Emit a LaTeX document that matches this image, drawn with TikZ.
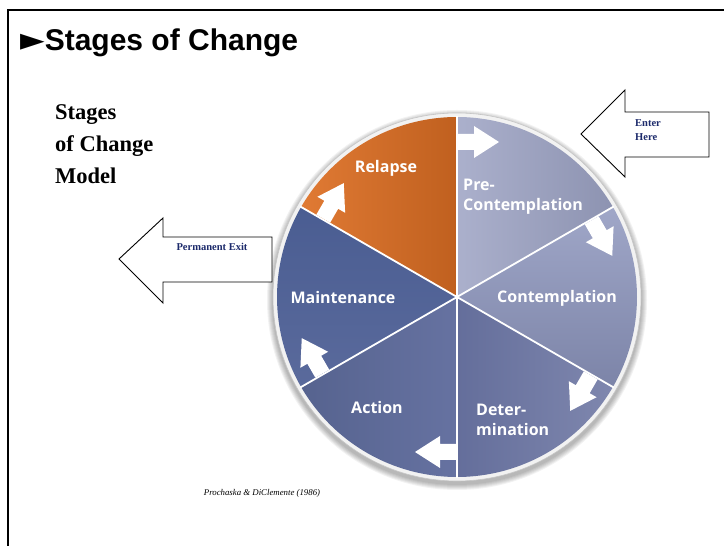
\documentclass[tikz,border=0pt]{standalone}
\usepackage{fontspec}
\setmainfont{Liberation Serif}
\newfontfamily\labfont{Open Sans}
\newfontfamily\ttlfont{Liberation Sans}
\newfontfamily\symfont{DejaVu Sans}
\definecolor{navy}{HTML}{1C2A6B}
\definecolor{relA}{HTML}{E07A34}
\definecolor{relB}{HTML}{C0601F}
\definecolor{preA}{HTML}{ABB0CC}
\definecolor{preB}{HTML}{8D93B1}
\definecolor{conA}{HTML}{A0A7C8}
\definecolor{conB}{HTML}{7C84A8}
\definecolor{detA}{HTML}{646E9B}
\definecolor{detB}{HTML}{7F87AE}
\definecolor{actA}{HTML}{56638F}
\definecolor{actB}{HTML}{6672A1}
\definecolor{maiA}{HTML}{4A5D92}
\definecolor{maiB}{HTML}{5A6A9C}
\tikzset{
  seglabel/.style={inner sep=0pt, text=white, font=\labfont\bfseries\fontsize{16}{20}\selectfont},
  sideblock/.style={draw=black, line width=0.9pt, fill=white, line join=miter},
  sidetext/.style={inner sep=0pt, text=navy, font=\bfseries\fontsize{10.5}{14}\selectfont},
  flowarrow/.style={fill=white}
}
\newcommand\stsector[4]{%
  \shade[left color=#3, right color=#4] (457,249) -- ++(#1:180) arc[start angle=#1, end angle=#2, radius=180] -- cycle;}
\begin{document}
\begin{tikzpicture}[x=1pt,y=1pt]
\useasboundingbox (0,0) rectangle (724,546);
\fill[white] (0,0) rectangle (724,546);
% frame
\draw[line width=2pt] (8,0) -- (8,536) -- (724,536);
% title
\node[anchor=west, inner sep=0pt] (title) at (20,503)
  {\fontsize{30}{34}\selectfont{\symfont\fontsize{32}{34}\selectfont ►}{\ttlfont\bfseries Stages of Change}};
% left heading
\node[anchor=west, inner sep=0pt, align=left, font=\bfseries\fontsize{22.5}{32}\selectfont] (model) at (55,402)
  {Stages\\of Change\\Model};
% wheel
\coordinate (C) at (457,249);
\foreach \i in {1,...,6}{
  \fill[black, opacity=0.05] (457,246) circle[radius=184+\i];
}
\fill[gray!10] (C) circle[radius=184];
\draw[gray!45, line width=0.6pt] (C) circle[radius=184];
\stsector{90}{150}{relA}{relB}
\stsector{30}{90}{preA}{preB}
\shade[top color=conA, bottom color=conB] (C) -- ++(-30:180) arc[start angle=-30, end angle=30, radius=180] -- cycle;
\stsector{-90}{-30}{detA}{detB}
\stsector{-150}{-90}{actA}{actB}
\shade[top color=maiA, bottom color=maiB] (C) -- ++(150:180) arc[start angle=150, end angle=210, radius=180] -- cycle;
\foreach \a in {90,30,-30,-90,-150,150}{
  \draw[white, line width=1.8pt] (C) -- ++(\a:181);
}
% flow arrows
\foreach \a in {90,30,-30,-90,-150,150}{
  \fill[flowarrow, shift={(C)}, rotate=\a]
    (147,-1) -- (147,-17) -- (139,-17) -- (155,-42) -- (171,-17) -- (163,-17) -- (163,-1) -- cycle;
}
% labels
\node[seglabel] (relapse) at (386,378) {Relapse};
\node[seglabel, anchor=west, align=left] (pre) at (463,349) {Pre-\\Contemplation};
\node[seglabel] (contemp) at (557,248) {Contemplation};
\node[seglabel, anchor=west, align=left] (deter) at (476,126) {Deter-\\mination};
\node[seglabel] (action) at (377,138) {Action};
\node[seglabel] (maint) at (343,248) {Maintenance};
% Enter Here arrow
\draw[sideblock] (581,412) -- (625,456) -- (625,434) -- (709,434) -- (709,389) -- (625,389) -- (625,369) -- cycle;
\node[sidetext, anchor=west, align=left] (enter) at (635,416) {Enter\\Here};
% Permanent Exit arrow
\draw[sideblock] (119,287) -- (163,328) -- (163,309) -- (272,309) -- (272,264) -- (163,264) -- (163,243) -- cycle;
\node[sidetext] (exit) at (212,299) {Permanent Exit};
% citation
\node[inner sep=0pt, font=\itshape\fontsize{8.8}{10}\selectfont] (cite) at (262,53) {Prochaska \& DiClemente (1986)};
\end{tikzpicture}
\end{document}
